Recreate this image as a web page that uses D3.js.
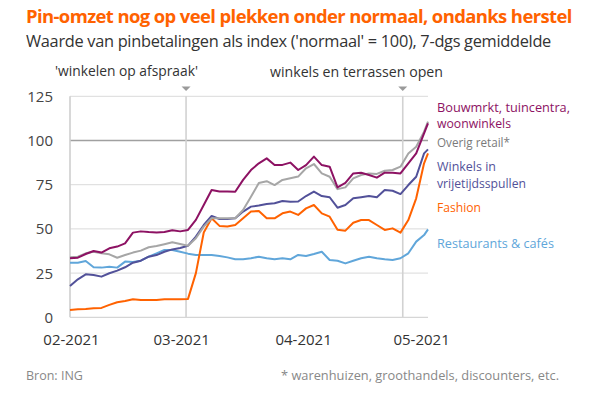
<!DOCTYPE html>
<html>
<head>
<meta charset="utf-8">
<script src="https://cdn.jsdelivr.net/npm/d3@7"></script>
<style>
  body { margin: 0; background: #fff; }
  svg text { font-family: "Open Sans", sans-serif; }
</style>
</head>
<body>
<div id="chart"></div>
<script>
// dagen na 1 februari 2021
const dagen = [0, 2, 4, 6, 8, 10, 12, 14, 16, 18, 20, 22, 24, 26, 28, 30, 32, 34, 36, 38, 40, 42, 44, 46,
  48, 50, 52, 54, 56, 58, 60, 62, 64, 66, 68, 70, 72, 74, 76, 78, 80, 82, 84, 86, 88, 90, 91];

const bouwmarkt = [33.4, 33.7, 35.8, 37.5, 36.6, 39.0, 40, 41.8, 47.9, 48.6, 48.2, 47.9, 48.2, 49.2, 48.6, 49.4,
  55.1, 63.5, 72, 71.1, 71.1, 71, 77.7, 83.3, 87.1, 89.9, 86.2, 86.2, 87.5, 83.3, 86.1, 90.9, 86.1, 85.2,
  73.5, 76, 81.4, 81.8, 80.5, 79, 81.8, 81.8, 81.4, 87.1, 92.7, 104, 109.7];
const overig = [33.9, 34.3, 36.2, 37.1, 36.2, 35.6, 33.7, 35.2, 36.6, 37.7, 39.6, 40.3, 41.3, 42.4, 41.5, 40.5,
  44.7, 51.3, 56, 56, 56, 56, 60.7, 68.2, 76, 77, 74.8, 77.7, 78.6, 79.6, 84.3, 86.7, 81.4, 79.5,
  72.5, 73.5, 78.6, 80.5, 81.4, 81.1, 82.9, 83.3, 85.2, 92.7, 96.5, 105, 110.7];
const vrijetijd = [17.7, 21.5, 24.3, 23.9, 23, 24.9, 26.4, 28.3, 30.9, 32, 34.3, 35.2, 37.1, 38.4, 39.2, 40.5,
  45.6, 52.2, 57.3, 55.6, 55.6, 56, 59.8, 62.6, 63.2, 64.1, 64.5, 65.8, 65.4, 65.5, 68.6, 71.1, 68.6, 67.9,
  62, 63.5, 67.3, 67.9, 68.6, 67.9, 72, 71.6, 69.7, 74.8, 79.5, 92.7, 95];
const fashion = [4.1, 4.5, 4.7, 5.1, 5.3, 7, 8.5, 9.2, 10.2, 9.8, 9.8, 9.8, 10.2, 10.2, 10.2, 10.4,
  25, 48, 56, 51.7, 51.3, 52.2, 56, 59.8, 60.1, 56, 56, 58.8, 59.8, 57.9, 61.6, 63.5, 58.8, 56.9,
  49.5, 49, 53.5, 55, 55, 52.2, 49.4, 50.3, 47.9, 55, 67.3, 87.1, 92.7];
const horeca = [30.9, 30.9, 31.8, 28.3, 28.1, 28.6, 28.1, 31.5, 31.3, 32, 34.3, 36.2, 38.1, 38.1, 37.1, 36,
  35.3, 35.3, 35.3, 34.7, 33.9, 32.8, 32.8, 33.4, 34.3, 33.4, 32.8, 33.4, 32.8, 35.3, 34.7, 35.8, 37.1, 32.4,
  32, 30.5, 32, 33.4, 34.3, 33.4, 32.8, 32.4, 33.4, 36.2, 42.8, 46.5, 49.75];

const yTicks = [0, 25, 50, 75, 100, 125];
const xTicks = ["2021-02-01", "2021-03-01", "2021-04-01", "2021-05-01"];
const gebeurtenissen = ["2021-03-02T12:00", "2021-04-26T14:00"];
const gebeurtenisLabels = ["'winkelen op afspraak'", "winkels en terrassen open"];

const series = [
  { waarden: bouwmarkt, kleur: "#8d1263", label: ["Bouwmrkt, tuincentra,", "woonwinkels"] },
  { waarden: overig, kleur: "#a6a6a6", tekstKleur: "#7a7a7a", label: ["Overig retail*"] },
  { waarden: vrijetijd, kleur: "#525199", label: ["Winkels in", "vrijetijdsspullen"] },
  { waarden: fashion, kleur: "#ff6200", label: ["Fashion"] },
  { waarden: horeca, kleur: "#60a6da", label: ["Restaurants & cafés"] }
];

// legenda-opmaak: basislijn en breedte per regel
const legendaY = [[111.5, 128], [147], [171, 187.5], [212], [248]];
const legendaBreedte = [[133, 74], [73], [59, 89], [44], [117]];

const width = 600, height = 395;
const start = new Date(2021, 1, 1);
const datums = dagen.map(d => d3.timeDay.offset(start, d));

const svg = d3.select("#chart").append("svg")
    .attr("width", width)
    .attr("height", height);

// schaal de lettergrootte zodat de tekst een gegeven breedte krijgt
function pasIn(sel, breedte) {
  const fs = +sel.attr("font-size");
  const w = sel.node().getComputedTextLength();
  sel.attr("font-size", (fs * breedte / w).toFixed(2));
  return sel;
}

const x = d3.scaleTime()
    .domain([start, d3.timeDay.offset(start, 91)])
    .range([70, 428]);

const y = d3.scaleLinear()
    .domain([0, 125])
    .range([317.3, 96.3]);

// titel
svg.append("text")
    .attr("x", 26).attr("y", 23)
    .attr("fill", "#ff6200")
    .attr("font-size", 19)
    .attr("font-weight", "bold")
    .attr("letter-spacing", -0.6)
    .text("Pin-omzet nog op veel plekken onder normaal, ondanks herstel")
    .call(pasIn, 547);

svg.append("text")
    .attr("x", 26).attr("y", 47)
    .attr("fill", "#333")
    .attr("font-size", 16)
    .attr("letter-spacing", -0.3)
    .text("Waarde van pinbetalingen als index ('normaal' = 100), 7-dgs gemiddelde")
    .call(pasIn, 525);

// gridlijnen
svg.append("g")
  .selectAll("line")
  .data(yTicks.filter(d => d > 0))
  .join("line")
    .attr("x1", 70).attr("x2", 428)
    .attr("y1", d => y(d)).attr("y2", d => y(d))
    .attr("stroke", d => d === 100 ? "#a0a0a0" : "#dadada")
    .attr("stroke-width", d => d === 100 ? 1.6 : 1);

// y-as labels
svg.append("g")
  .selectAll("text")
  .data(yTicks)
  .join("text")
    .attr("x", 53)
    .attr("y", d => y(d) + 5.5)
    .attr("text-anchor", "end")
    .attr("font-size", 15)
    .attr("fill", "#444")
    .text(d => d);

// gebeurtenissen
const ev = svg.append("g");
ev.selectAll("line")
  .data(gebeurtenissen)
  .join("line")
    .attr("x1", d => x(new Date(d))).attr("x2", d => x(new Date(d)))
    .attr("y1", y(125)).attr("y2", y(0))
    .attr("stroke", "#d2d2d2")
    .attr("stroke-width", 1.6);

ev.selectAll("path")
  .data(gebeurtenissen)
  .join("path")
    .attr("d", d => {
      const px = x(new Date(d));
      return `M${px - 4.5},86.5 L${px + 4.5},86.5 L${px},91 Z`;
    })
    .attr("fill", "#9a9a9a");

ev.append("text")
    .attr("x", 55).attr("y", 76)
    .attr("font-size", 15)
    .attr("fill", "#333")
    .attr("textLength", 143)
    .attr("lengthAdjust", "spacingAndGlyphs")
    .text(gebeurtenisLabels[0]);

ev.append("text")
    .attr("x", 270).attr("y", 76.5)
    .attr("font-size", 15)
    .attr("fill", "#333")
    .attr("textLength", 173)
    .attr("lengthAdjust", "spacingAndGlyphs")
    .text(gebeurtenisLabels[1]);

// assen
svg.append("line")
    .attr("x1", 70).attr("x2", 70)
    .attr("y1", y(125)).attr("y2", y(0))
    .attr("stroke", "#cfcfcf").attr("stroke-width", 1.6);

svg.append("line")
    .attr("x1", 70).attr("x2", 428)
    .attr("y1", y(0)).attr("y2", y(0))
    .attr("stroke", "#d6d6d6").attr("stroke-width", 1.2);

svg.append("g")
  .selectAll("text")
  .data(xTicks)
  .join("text")
    .attr("x", d => x(new Date(d + "T00:00")) + 1.5)
    .attr("y", 345)
    .attr("text-anchor", "middle")
    .attr("font-size", 15)
    .attr("fill", "#333")
    .text(d => d3.timeFormat("%m-%Y")(new Date(d + "T00:00")));

// lijnen
const line = d3.line()
    .x((d, i) => x(datums[i]))
    .y(d => y(d));

svg.append("g")
  .selectAll("path")
  .data(series.slice().reverse())
  .join("path")
    .attr("d", d => line(d.waarden))
    .attr("fill", "none")
    .attr("stroke", d => d.kleur)
    .attr("stroke-width", 2)
    .attr("stroke-linejoin", "round");

// legenda
const leg = svg.append("g");
series.forEach((s, j) => {
  s.label.forEach((t, i) => {
    leg.append("text")
        .attr("x", 437)
        .attr("y", legendaY[j][i])
        .attr("font-size", 13)
        .attr("fill", s.tekstKleur || s.kleur)
        .attr("textLength", legendaBreedte[j][i])
        .attr("lengthAdjust", "spacingAndGlyphs")
        .text(t);
  });
});

// bron
svg.append("text")
    .attr("x", 26).attr("y", 380)
    .attr("font-size", 12.5)
    .attr("fill", "#888")
    .text("Bron: ING");

svg.append("text")
    .attr("x", 281).attr("y", 380)
    .attr("font-size", 12.5)
    .attr("fill", "#888")
    .attr("textLength", 278)
    .attr("lengthAdjust", "spacingAndGlyphs")
    .text("* warenhuizen, groothandels,  discounters, etc.");
</script>
</body>
</html>
